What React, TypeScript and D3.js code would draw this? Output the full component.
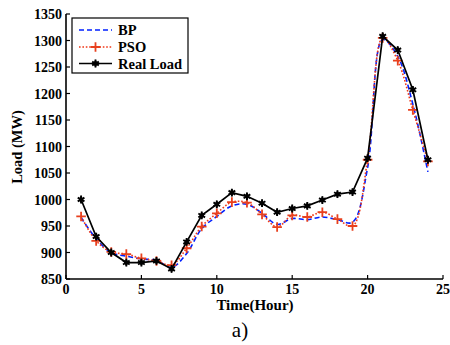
import React from "react";
import * as d3 from "d3";

const hours = [1,2,3,4,5,6,7,8,9,10,11,12,13,14,15,16,17,18,19,20,21,22,23,24];
const realLoad = [1000,930,900,881,881,884,869,920,970,991,1013,1006,993,976,983,988,999,1010,1014,1078,1308,1282,1207,1075];
const psoLoad = [968,922,901,897,889,884,876,908,949,974,995,994,972,948,970,967,976,963,950,1075,1305,1262,1169,1072];
const bpLoad = [966,926,900,893,888,885,872,898,945,968,988,991,974,953,964,962,967,962,957,1060,1302,1270,1180,1052];
const xTicks = [0,5,10,15,20,25];
const yTicks = [850,900,950,1000,1050,1100,1150,1200,1250,1300,1350];

const W = 450, H = 345;
const L = 66, R = 443, T = 14, B = 279;
const FONT = "Liberation Serif";

export default function App() {
  const x = d3.scaleLinear().domain([0, 25]).range([L, R]);
  const y = d3.scaleLinear().domain([850, 1350]).range([B, T]);
  const lineStraight = d3.line<number>().x((_, i) => x(hours[i])).y(v => y(v));
  const lineSmooth = d3.line<number>().x((_, i) => x(hours[i])).y(v => y(v)).curve(d3.curveCatmullRom);
  const star = d3.symbol().type(d3.symbolAsterisk).size(42)();
  const plus = d3.symbol().type(d3.symbolPlus).size(32)();
  const diamond = d3.symbol().type(d3.symbolDiamond).size(18)();

  return (
    <svg width={W} height={H} style={{ position: "absolute", left: 0, top: 0, background: "#fff", fontFamily: FONT }}>
      <rect x={0} y={0} width={W} height={H} fill="#fff" />
      <path d={lineSmooth(bpLoad) || ""} fill="none" stroke="#0020ff" strokeWidth={1.6} strokeDasharray="5,3" />
      <path d={lineSmooth(psoLoad) || ""} fill="none" stroke="#f03818" strokeWidth={1.6} strokeDasharray="1.6,1.8" />
      {psoLoad.map((v, i) => (
        <path key={"p" + i} d={plus} transform={`translate(${x(hours[i])},${y(v)})`} stroke="#e8401e" strokeWidth={1.8} fill="none" />
      ))}
      <path d={lineStraight(realLoad) || ""} fill="none" stroke="#000" strokeWidth={1.7} />
      {realLoad.map((v, i) => (
        <g key={"r" + i} transform={`translate(${x(hours[i])},${y(v)})`}>
          <path d={star} stroke="#000" strokeWidth={1.9} fill="none" />
          <path d={diamond} fill="#000" />
        </g>
      ))}
      <line x1={L} x2={R} y1={B} y2={B} stroke="#000" strokeWidth={1.6} />
      <line x1={L} x2={L} y1={T} y2={B} stroke="#000" strokeWidth={1.6} />
      {xTicks.map(t => (
        <g key={"xt" + t}>
          <line x1={x(t)} x2={x(t)} y1={B} y2={B - 4} stroke="#000" strokeWidth={1.2} />
          <text x={x(t)} y={B + 15} textAnchor="middle" fontSize={14} fontWeight="bold">{t}</text>
        </g>
      ))}
      {yTicks.map(t => (
        <g key={"yt" + t}>
          <line x1={L} x2={L + 4} y1={y(t)} y2={y(t)} stroke="#000" strokeWidth={1.2} />
          <text x={L - 4} y={y(t) + 5} textAnchor="end" fontSize={14} fontWeight="bold">{t}</text>
        </g>
      ))}
      <text x={255} y={B + 31} textAnchor="middle" fontSize={15} fontWeight="bold">Time(Hour)</text>
      <text transform={`translate(22,147) rotate(-90)`} textAnchor="middle" fontSize={14.5} fontWeight="bold">Load (MW)</text>
      <text x={240} y={337} textAnchor="middle" fontSize={21}>a)</text>
      <rect x={72} y={18} width={116} height={55} fill="#fff" stroke="#000" strokeWidth={1.2} />
      <line x1={79} x2={112} y1={30} y2={30} stroke="#0020ff" strokeWidth={1.6} strokeDasharray="5,3" />
      <text x={118} y={35} fontSize={14.5} fontWeight="bold">BP</text>
      <line x1={79} x2={112} y1={47} y2={47} stroke="#f03818" strokeWidth={1.6} strokeDasharray="1.6,1.8" />
      <path d={plus} transform="translate(95.5,47)" stroke="#e8401e" strokeWidth={1.8} fill="none" />
      <text x={118} y={52} fontSize={14.5} fontWeight="bold">PSO</text>
      <line x1={79} x2={112} y1={63.5} y2={63.5} stroke="#000" strokeWidth={1.6} />
      <g transform="translate(95.5,63.5)">
        <path d={star} stroke="#000" strokeWidth={1.9} fill="none" />
        <path d={diamond} fill="#000" />
      </g>
      <text x={118} y={68.5} fontSize={14.5} fontWeight="bold">Real Load</text>
    </svg>
  );
}
